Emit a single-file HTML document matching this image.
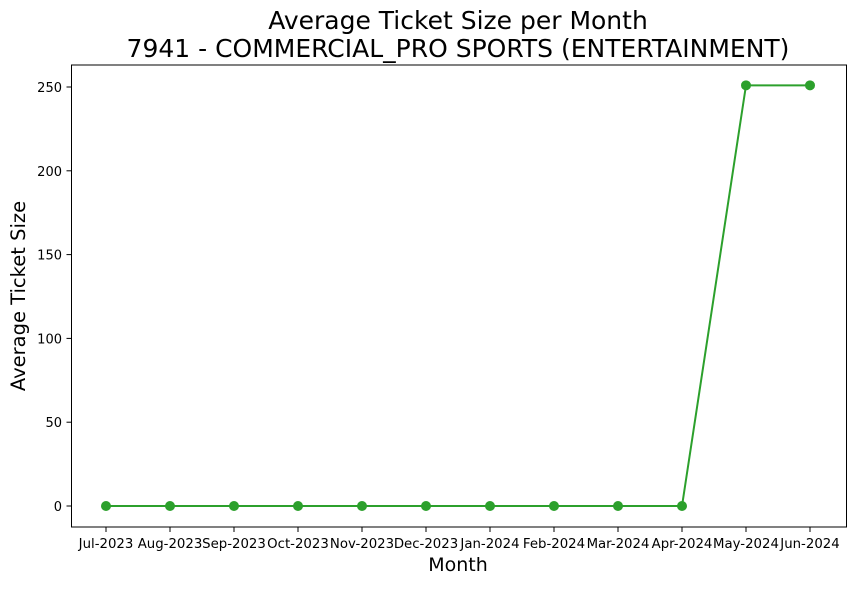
<!DOCTYPE html>
<html><head><meta charset="utf-8"><style>
body{margin:0;background:#fff;font-family:"DejaVu Sans","Liberation Sans",sans-serif;}
svg text{font-family:"DejaVu Sans","Liberation Sans",sans-serif;}
</style></head><body>
<svg id="chart" width="855" height="585" xmlns="http://www.w3.org/2000/svg">
<text x="458" y="29" text-anchor="middle" font-size="25">Average Ticket Size per Month</text>
<text x="458" y="57" text-anchor="middle" font-size="25">7941 - COMMERCIAL_PRO SPORTS (ENTERTAINMENT)</text>
<g id="axes"></g>
<rect x="71.5" y="65" width="775" height="462" fill="none" stroke="#000" stroke-width="1"/>
<text x="458" y="571" text-anchor="middle" font-size="19">Month</text>
<text transform="translate(25,296) rotate(-90)" text-anchor="middle" font-size="19.5">Average Ticket Size</text>
</svg>
<script>
const categories=["Jul-2023","Aug-2023","Sep-2023","Oct-2023","Nov-2023","Dec-2023","Jan-2024","Feb-2024","Mar-2024","Apr-2024","May-2024","Jun-2024"];
const values=[0,0,0,0,0,0,0,0,0,0,251,251];
const yTicks=[0,50,100,150,200,250];
const NS="http://www.w3.org/2000/svg";
const g=document.getElementById('axes');
const xS=i=>106+i*64;
const yS=v=>506-v*(419/250);
function mk(t,a){const e=document.createElementNS(NS,t);for(const k in a)e.setAttribute(k,a[k]);g.appendChild(e);return e;}
yTicks.forEach(v=>{
 const l=mk('line',{x1:71.5,x2:66.5,y1:yS(v),y2:yS(v),stroke:'#000'});
 
 
 const t=mk('text',{x:62,y:yS(v)+5,'text-anchor':'end','font-size':'13'});t.textContent=v;
 
 
});
categories.forEach((c,i)=>{
 const l=mk('line',{x1:xS(i),x2:xS(i),y1:527,y2:532,stroke:'#000'});
 
 
 const t=mk('text',{x:xS(i),y:548,'text-anchor':'middle','font-size':'13.3'});t.textContent=c;
 
 
});
const pl=mk('polyline',{points:values.map((v,i)=>xS(i)+','+yS(v)).join(' '),fill:'none',stroke:'#2ca02c','stroke-width':2});


values.forEach((v,i)=>{
 const c=mk('circle',{cx:xS(i),cy:yS(v),r:5,fill:'#2ca02c'});
 
 
});
</script>
</body></html>
